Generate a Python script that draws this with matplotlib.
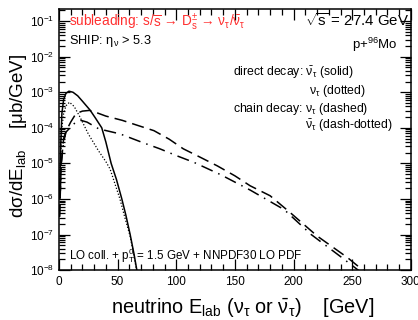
import numpy as np
import matplotlib
matplotlib.use('Agg')
import matplotlib.pyplot as plt
from matplotlib.ticker import MultipleLocator, LogLocator, NullFormatter

plt.rcParams['font.family'] = ['Liberation Sans', 'DejaVu Sans']
plt.rcParams['mathtext.fontset'] = 'custom'
plt.rcParams['mathtext.rm'] = 'Liberation Sans'
plt.rcParams['mathtext.it'] = 'Liberation Sans'
plt.rcParams['mathtext.default'] = 'regular'

# direct decay, anti-nu_tau (solid)
solid_E = [0.5, 1.5, 2.5, 4, 6, 8.5, 12, 16, 20, 26.5, 31, 36.5, 40, 44.5, 49, 53.6, 57,
           60.7, 64, 66.4, 68]
solid_log = [-6.0, -4.5, -3.6, -3.2, -3.03, -2.97, -3.0, -3.1, -3.25, -3.5, -3.72, -4.0,
             -4.4, -5.0, -5.45, -6.0, -6.45, -7.0, -7.55, -8.0, -8.3]
# direct decay, nu_tau (dotted)
dot_E = [0.5, 1.5, 2.5, 4, 6, 9, 13, 18, 25, 33.6, 40, 43.6, 47, 52, 56, 60.7, 64, 66.4, 68]
dot_log = [-6.0, -4.8, -4.0, -3.6, -3.38, -3.28, -3.4, -3.7, -4.17, -4.64, -4.95, -5.16,
           -5.5, -6.0, -6.5, -7.05, -7.6, -8.05, -8.3]
# chain decay, nu_tau (dashed)
dash_E = [0.5, 2, 4, 6, 10, 14.5, 20, 26, 31, 40, 54, 66, 81, 94, 106, 120, 135, 150,
          163, 180, 197, 220, 246, 259, 262]
dash_log = [-6.5, -5.0, -4.3, -4.1, -3.84, -3.6, -3.53, -3.51, -3.56, -3.67, -3.79,
            -3.92, -4.08, -4.32, -4.59, -4.82, -5.07, -5.35, -5.63, -5.91, -6.38, -7.04,
            -7.65, -8.0, -8.1]
# chain decay, anti-nu_tau (dash-dotted)
dd_E = [0.5, 2, 4, 6, 10, 14, 18.8, 24, 34, 52, 71, 86, 100, 115, 138, 163, 192, 215,
        240, 257, 260]
dd_log = [-6.5, -5.0, -4.4, -4.12, -3.98, -3.85, -3.79, -3.84, -4.03, -4.17, -4.41,
          -4.59, -4.78, -4.97, -5.32, -5.75, -6.3, -7.0, -7.62, -8.05, -8.15]

xticks = [0, 50, 100, 150, 200, 250, 300]

fig = plt.figure(figsize=(4.18, 3.2), dpi=100)
ax = fig.add_axes([0.141, 0.156, 0.842, 0.816])

lw = 1.1
ax.plot(solid_E, 10 ** np.array(solid_log), color='black', lw=lw, ls='-')
ax.plot(dot_E, 10 ** np.array(dot_log), color='black', lw=0.9, ls=(0, (1, 1.5)))
ax.plot(dash_E, 10 ** np.array(dash_log), color='black', lw=lw, ls=(0, (8, 4)))
ax.plot(dd_E, 10 ** np.array(dd_log), color='black', lw=lw, ls=(0, (8, 4, 1, 4)))

ax.set_yscale('log')
ax.set_xlim(0, 300)
ax.set_ylim(1e-8, 2.2e-1)
ax.set_xticks(xticks)
ax.xaxis.set_minor_locator(MultipleLocator(10))
ax.yaxis.set_major_locator(LogLocator(base=10, numticks=20))
ax.yaxis.set_minor_locator(LogLocator(base=10, subs=np.arange(2, 10), numticks=100))
ax.yaxis.set_minor_formatter(NullFormatter())
ax.tick_params(which='both', direction='in', top=True, right=True, labelsize=8.5, width=0.9)
ax.tick_params(which='major', length=8)
ax.tick_params(which='minor', length=4)
ax.tick_params(axis='x', pad=4)
for s in ax.spines.values():
    s.set_linewidth(1.1)

ax.text(0.03, 0.95, r'subleading: s/$\overline{s}$ → D$_s^{\pm}$ → $\nu_\tau$/$\bar{\nu}_\tau$',
        transform=ax.transAxes, color='#ff3030', fontsize=9.8, va='center', ha='left')
ax.text(0.03, 0.877, r'SHIP: $\eta_\nu$ > 5.3', transform=ax.transAxes, fontsize=9.2,
        va='center', ha='left')
ax.text(0.995, 0.955, r'$\sqrt{s}$ = 27.4 GeV', transform=ax.transAxes, fontsize=10.8,
        va='center', ha='right')
ax.text(0.963, 0.862, r'p+$^{96}$Mo', transform=ax.transAxes, fontsize=9.5,
        va='center', ha='right')
fs_leg = 8.8
ax.text(0.494, 0.755, r'direct decay: $\bar{\nu}_\tau$ (solid)', transform=ax.transAxes,
        fontsize=fs_leg, va='center', ha='left')
ax.text(0.71, 0.686, r'$\nu_\tau$ (dotted)', transform=ax.transAxes,
        fontsize=fs_leg, va='center', ha='left')
ax.text(0.494, 0.617, r'chain decay: $\nu_\tau$ (dashed)', transform=ax.transAxes,
        fontsize=fs_leg, va='center', ha='left')
ax.text(0.70, 0.552, r'$\bar{\nu}_\tau$ (dash-dotted)', transform=ax.transAxes,
        fontsize=fs_leg, va='center', ha='left')
ax.text(0.03, 0.057, r'LO coll. + p$_T^0$ = 1.5 GeV + NNPDF30 LO PDF', transform=ax.transAxes,
        fontsize=8.4, va='center', ha='left')

fig.text(0.045, 0.575, r'd$\sigma$/dE$_{lab}$    [$\mu$b/GeV]', rotation=90,
         fontsize=13.5, va='center', ha='center')
fig.text(0.58, 0.04, r'neutrino E$_{lab}$ ($\nu_\tau$ or $\bar{\nu}_\tau$)    [GeV]',
         fontsize=14.3, va='center', ha='center')

fig.savefig('out.png', dpi=100)
